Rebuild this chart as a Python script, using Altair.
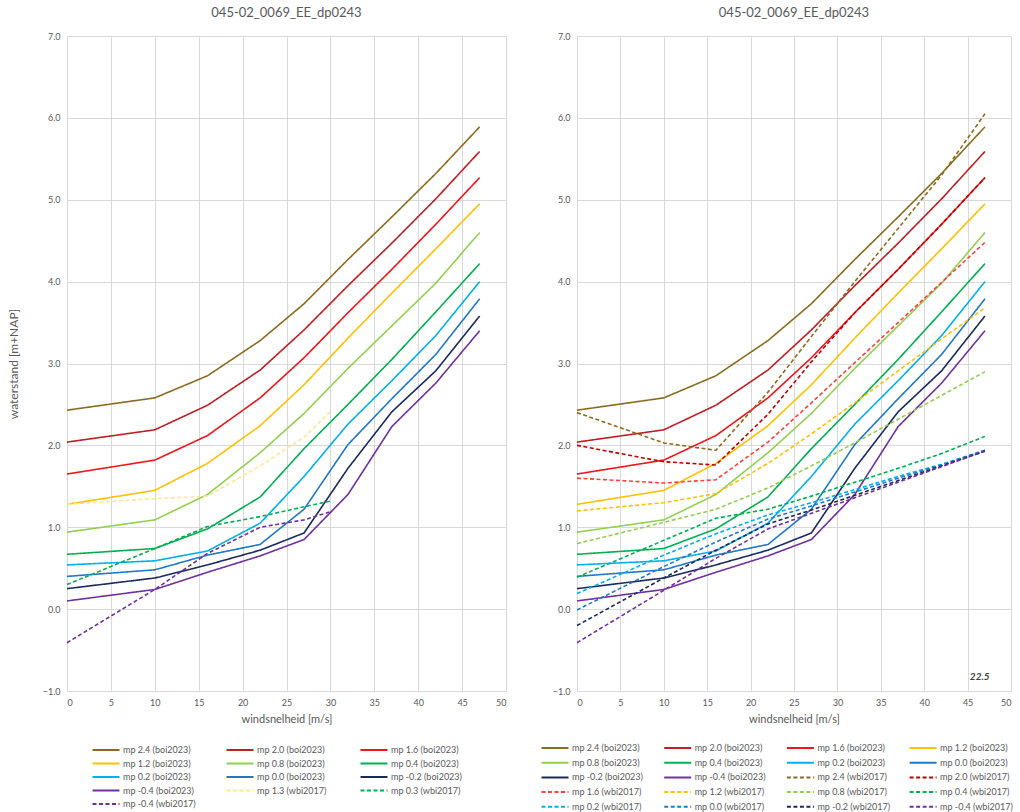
import altair as alt
import pandas as pd

wind = [0, 10, 16, 22, 27, 32, 37, 42, 47]
wind_short = [0, 10, 16, 22, 27, 30]

boi_names = ["mp 2.4 (boi2023)", "mp 2.0 (boi2023)", "mp 1.6 (boi2023)", "mp 1.2 (boi2023)",
             "mp 0.8 (boi2023)", "mp 0.4 (boi2023)", "mp 0.2 (boi2023)", "mp 0.0 (boi2023)",
             "mp -0.2 (boi2023)", "mp -0.4 (boi2023)"]
boi_colors = ["#8C6B1E", "#C01E22", "#F2161C", "#FFC000", "#92D050", "#00B050",
              "#00B0F0", "#1F78C8", "#1B2A5E", "#7030A0"]
boi_values = [
    [2.43, 2.58, 2.85, 3.28, 3.73, 4.27, 4.79, 5.32, 5.89],
    [2.04, 2.19, 2.49, 2.92, 3.41, 3.95, 4.47, 5.01, 5.59],
    [1.65, 1.82, 2.12, 2.58, 3.07, 3.62, 4.15, 4.70, 5.27],
    [1.28, 1.45, 1.78, 2.24, 2.74, 3.31, 3.86, 4.40, 4.95],
    [0.94, 1.09, 1.40, 1.91, 2.39, 2.94, 3.46, 3.98, 4.60],
    [0.67, 0.74, 0.98, 1.37, 1.96, 2.50, 3.05, 3.63, 4.22],
    [0.54, 0.59, 0.71, 1.05, 1.62, 2.26, 2.79, 3.34, 4.00],
    [0.40, 0.48, 0.66, 0.79, 1.22, 2.01, 2.57, 3.11, 3.79],
    [0.25, 0.38, 0.54, 0.72, 0.93, 1.72, 2.41, 2.91, 3.58],
    [0.10, 0.24, 0.45, 0.65, 0.85, 1.40, 2.23, 2.76, 3.40],
]

left_wbi_names = ["mp 1.3 (wbi2017)", "mp 0.3 (wbi2017)", "mp -0.4 (wbi2017)"]
left_wbi_colors = ["#FFE699", "#00B050", "#7030A0"]
left_wbi_values = [
    [1.28, 1.35, 1.38, 1.75, 2.10, 2.41],
    [0.30, 0.74, 1.01, 1.13, 1.25, 1.32],
    [-0.41, 0.24, 0.68, 1.00, 1.09, 1.19],
]

right_wbi_names = ["mp 2.4 (wbi2017)", "mp 2.0 (wbi2017)", "mp 1.6 (wbi2017)", "mp 1.2 (wbi2017)",
                   "mp 0.8 (wbi2017)", "mp 0.4 (wbi2017)", "mp 0.2 (wbi2017)", "mp 0.0 (wbi2017)",
                   "mp -0.2 (wbi2017)", "mp -0.4 (wbi2017)"]
right_wbi_colors = ["#8C6B1E", "#C00000", "#FF4040", "#FFC000", "#92D050", "#00B050",
                    "#00B0F0", "#1F78C8", "#1B2A5E", "#7030A0"]
right_wbi_values = [
    [2.40, 2.03, 1.94, 2.65, 3.33, 4.00, 4.65, 5.30, 6.05],
    [2.00, 1.80, 1.76, 2.38, 3.02, 3.62, 4.15, 4.70, 5.27],
    [1.60, 1.54, 1.58, 2.04, 2.52, 3.01, 3.50, 3.99, 4.48],
    [1.20, 1.30, 1.41, 1.78, 2.14, 2.52, 2.91, 3.30, 3.68],
    [0.80, 1.06, 1.22, 1.48, 1.75, 2.03, 2.32, 2.61, 2.90],
    [0.39, 0.84, 1.11, 1.22, 1.38, 1.55, 1.72, 1.90, 2.11],
    [0.19, 0.66, 0.92, 1.15, 1.30, 1.46, 1.62, 1.77, 1.94],
    [-0.01, 0.52, 0.82, 1.10, 1.26, 1.43, 1.60, 1.76, 1.94],
    [-0.20, 0.38, 0.72, 1.04, 1.21, 1.39, 1.57, 1.75, 1.93],
    [-0.41, 0.23, 0.62, 0.98, 1.17, 1.36, 1.55, 1.74, 1.93],
]

title_text = "045-02_0069_EE_dp0243"
note_x = [46.4]
note_y = [-0.83]
note_text = ["22.5"]

SOLID = [1, 0]
DASH = [4, 2.5]
GRAY = "#595959"
FONT = "Lato"


def build_df(names_vals):
    rows = []
    for name, xs, vals in names_vals:
        for xv, yv in zip(xs, vals):
            rows.append({"series": name, "wind": xv, "level": yv})
    return pd.DataFrame(rows)


def panel(df, names, colors, dashes, width, show_ytitle, columns, legend_x, legend_y,
          col_pad, row_pad, extra=None):
    x = alt.X("wind:Q", scale=alt.Scale(domain=[0, 50], nice=False),
              axis=alt.Axis(values=list(range(0, 51, 5)), title="windsnelheid [m/s]",
                            format="d"))
    y = alt.Y("level:Q", scale=alt.Scale(domain=[-1, 7], nice=False),
              axis=alt.Axis(values=list(range(-1, 8)), format=".1f",
                            title="waterstand [m+NAP]" if show_ytitle else None))
    legend = alt.Legend(title=None, orient="none", legendX=legend_x, legendY=legend_y,
                        direction="horizontal",
                        columns=columns, symbolType="M-2,0H2", symbolSize=182,
                        symbolStrokeWidth=2, labelFontSize=9, labelColor=GRAY,
                        labelFont=FONT, columnPadding=col_pad, rowPadding=row_pad,
                        labelOffset=9, gridAlign="all", labelLimit=200)
    lines = alt.Chart(df).mark_line(strokeWidth=1.6).encode(
        x=x, y=y,
        color=alt.Color("series:N", scale=alt.Scale(domain=names, range=colors), legend=legend),
        strokeDash=alt.StrokeDash("series:N", scale=alt.Scale(domain=names, range=dashes),
                                  legend=legend),
        order=alt.Order("wind:Q"),
        detail="series:N",
    )
    layers = [lines]
    if extra is not None:
        layers.append(extra)
    return alt.layer(*layers).properties(
        width=width, height=655,
        title=alt.TitleParams(title_text, fontSize=13, color=GRAY, font=FONT,
                              fontWeight="normal", anchor="middle", frame="group", offset=12),
    )


left_sets = [(n, wind, v) for n, v in zip(boi_names, boi_values)] + \
            [(n, wind_short, v) for n, v in zip(left_wbi_names, left_wbi_values)]
right_sets = [(n, wind, v) for n, v in zip(boi_names, boi_values)] + \
             [(n, wind, v) for n, v in zip(right_wbi_names, right_wbi_values)]

left_df = build_df(left_sets)
right_df = build_df(right_sets)

left_names = boi_names + left_wbi_names
left_colors = boi_colors + left_wbi_colors
left_dashes = [SOLID] * len(boi_names) + [DASH] * len(left_wbi_names)

right_names = boi_names + right_wbi_names
right_colors = boi_colors + right_wbi_colors
right_dashes = [SOLID] * len(boi_names) + [DASH] * len(right_wbi_names)

note_df = pd.DataFrame({"wind": note_x, "level": note_y, "txt": note_text})
note = alt.Chart(note_df).mark_text(fontStyle="italic", fontWeight="bold", fontSize=10,
                                    color="#404040", font=FONT).encode(
    x="wind:Q", y="level:Q", text="txt:N")

left = panel(left_df, left_names, left_colors, left_dashes, 439, True, 3,
             31, 706, 26, 0.5)
right = panel(right_df, right_names, right_colors, right_dashes, 434, False, 4,
              -30, 704, 14.7, 1.7, extra=note)

chart = alt.hconcat(left, right, spacing=40).resolve_scale(
    color="independent", strokeDash="independent"
).resolve_legend(color="independent", strokeDash="independent").properties(
    padding={"left": 7, "top": 7, "right": 0, "bottom": 0},
    background="white",
).configure_view(stroke=None).configure_axis(
    gridColor="#D9D9D9", gridWidth=1, domainColor="#D9D9D9", tickSize=0,
    labelFont=FONT, labelFontSize=9, labelColor=GRAY, labelPadding=7,
    titleFont=FONT, titleColor=GRAY, titleFontWeight="normal",
).configure_axisX(titleFontSize=11, titlePadding=6).configure_axisY(
    titleFontSize=12, titlePadding=22
)

chart.save("out.html", embed_options={"renderer": "svg", "actions": False})
